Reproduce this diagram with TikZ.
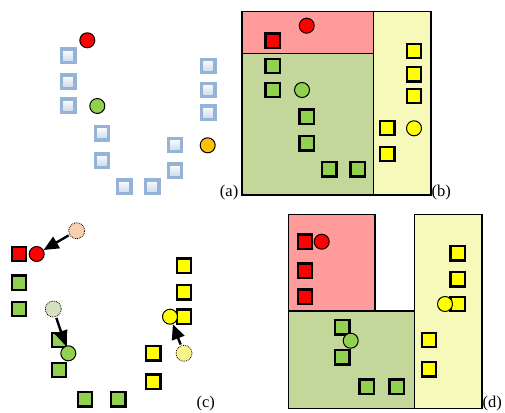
\documentclass[tikz,border=0pt]{standalone}
\usepackage{fontspec}
\setmainfont{Liberation Serif}
\usetikzlibrary{arrows.meta}
\definecolor{cred}{HTML}{FF0000}
\definecolor{cgreen}{HTML}{92D050}
\definecolor{cyellow}{HTML}{FFFF00}
\definecolor{corange}{HTML}{FFC000}
\definecolor{rred}{HTML}{FF9B9B}
\definecolor{rgreen}{HTML}{C4D79B}
\definecolor{ryellow}{HTML}{F6F9B9}
\definecolor{fred}{HTML}{F8CFB0}
\definecolor{fgreen}{HTML}{D5E2BF}
\definecolor{fyellow}{HTML}{F9F48C}
\definecolor{bluebd}{HTML}{95B3D7}
\definecolor{bluefl}{HTML}{C9D7EC}
\tikzset{
  bsq/.style={draw=bluebd,line width=3.2pt,inner sep=0pt,minimum size=13.5pt,top color=white,bottom color=bluefl},
  sq/.style={draw=black,line width=2.3pt,inner sep=0pt,minimum size=14.5pt,fill=#1},
  dot/.style={circle,draw=black,line width=1pt,inner sep=0pt,minimum size=15pt,fill=#1},
  fdot/.style={circle,draw=black,densely dotted,line width=0.8pt,inner sep=0pt,minimum size=16pt,fill=#1},
  region/.style={draw=black,line width=1.6pt,fill=#1},
  mv/.style={-{Triangle[length=15pt,width=13pt]},line width=2.4pt,black,shorten <=1pt},
  lbl/.style={font=\fontsize{16.5}{16.5}\selectfont,inner sep=0pt}
}
\begin{document}
\begin{tikzpicture}[x=1pt,y=-1pt]
\useasboundingbox (0,0) rectangle (505,412);
% ---------- (a)
\foreach \i/\x/\y in {1/68.3/55.7,2/68.3/81.7,3/68.3/105.7,4/102/133.3,5/102/160.7,6/124.3/186.7,7/152.3/186.7,8/175/170.7,9/175/145,10/208.3/66,11/208.3/90,12/208.3/112.7}
  \node[bsq] (a\i) at (\x,\y) {};
\node[dot=cred] (ar) at (87.3,40.3) {};
\node[dot=cgreen] (ag) at (97.3,106) {};
\node[dot=corange] (ao) at (207.7,145.3) {};
\node[lbl,anchor=base east] (la) at (238.5,196.5) {(a)};
% ---------- (b)
\path[region=rgreen] (241.7,53.3) rectangle (373.3,195);
\path[region=rred] (241.7,11.7) rectangle (373.3,53.3);
\path[region=ryellow] (373.3,11.7) rectangle (431,195);
\node[dot=cred] (br) at (306.7,25.7) {};
\node[sq=cred] (bs1) at (272.7,40.7) {};
\foreach \i/\x/\y in {1/272.7/66,2/272.7/90,3/306.7/116.7,4/306.7/143.3,5/329.3/169.3,6/357.7/169.3}
  \node[sq=cgreen] (bg\i) at (\x,\y) {};
\node[dot=cgreen] (bgc) at (302,90) {};
\foreach \i/\x/\y in {1/414/51,2/414/74.3,3/414/96,4/387.3/128,5/387.3/154}
  \node[sq=cyellow] (by\i) at (\x,\y) {};
\node[dot=cyellow] (byc) at (414,128.3) {};
\node[lbl,anchor=base west] (lb) at (431.5,196.5) {(b)};
% ---------- (c)
\node[sq=cred] (cs1) at (19,254) {};
\foreach \i/\x/\y in {1/19/282.7,2/19/309,3/59/340,4/59/370,5/85/399.3,6/118.3/399.3}
  \node[sq=cgreen] (cg\i) at (\x,\y) {};
\foreach \i/\x/\y in {1/184/265.7,2/184/292.3,3/184/316.7,4/153.3/353.3,5/153.3/381.7}
  \node[sq=cyellow] (cy\i) at (\x,\y) {};
\node[fdot=fred] (cfr) at (76.7,230.7) {};
\node[fdot=fgreen] (cfg) at (53.3,309) {};
\node[fdot=fyellow] (cfy) at (184,353.3) {};
\node[dot=cred] (cr) at (36.7,254) {};
\node[dot=cgreen] (cgc) at (68.3,353.3) {};
\node[dot=cyellow] (cyc) at (170,316.7) {};
\draw[mv] (cfr) -- (cr);
\draw[mv] (cfg) -- (cgc);
\draw[mv] (cfy) -- (cyc);
\node[lbl,anchor=base] (lc) at (205.7,407.5) {(c)};
% ---------- (d)
\path[region=rred] (288.3,214.3) rectangle (375,311);
\path[region=rgreen] (288.3,311) rectangle (414.3,408.3);
\path[region=ryellow] (414.3,214.3) rectangle (481.7,408.3);
\foreach \i/\x/\y in {1/305/241.7,2/305/270.7,3/305/296.7}
  \node[sq=cred] (ds\i) at (\x,\y) {};
\node[dot=cred] (dr) at (321.7,241.7) {};
\foreach \i/\x/\y in {1/342.3/327.3,2/342.3/357.3,3/366.7/386.7,4/396.7/386.7}
  \node[sq=cgreen] (dg\i) at (\x,\y) {};
\node[dot=cgreen] (dgc) at (350.7,340.7) {};
\foreach \i/\x/\y in {1/457.7/253.3,2/457.7/279.3,3/457.7/304,4/429/340,5/429/369.3}
  \node[sq=cyellow] (dy\i) at (\x,\y) {};
\node[dot=cyellow] (dyc) at (445,304) {};
\node[lbl,anchor=base west] (ld) at (482.5,407) {(d)};
\end{tikzpicture}
\end{document}
